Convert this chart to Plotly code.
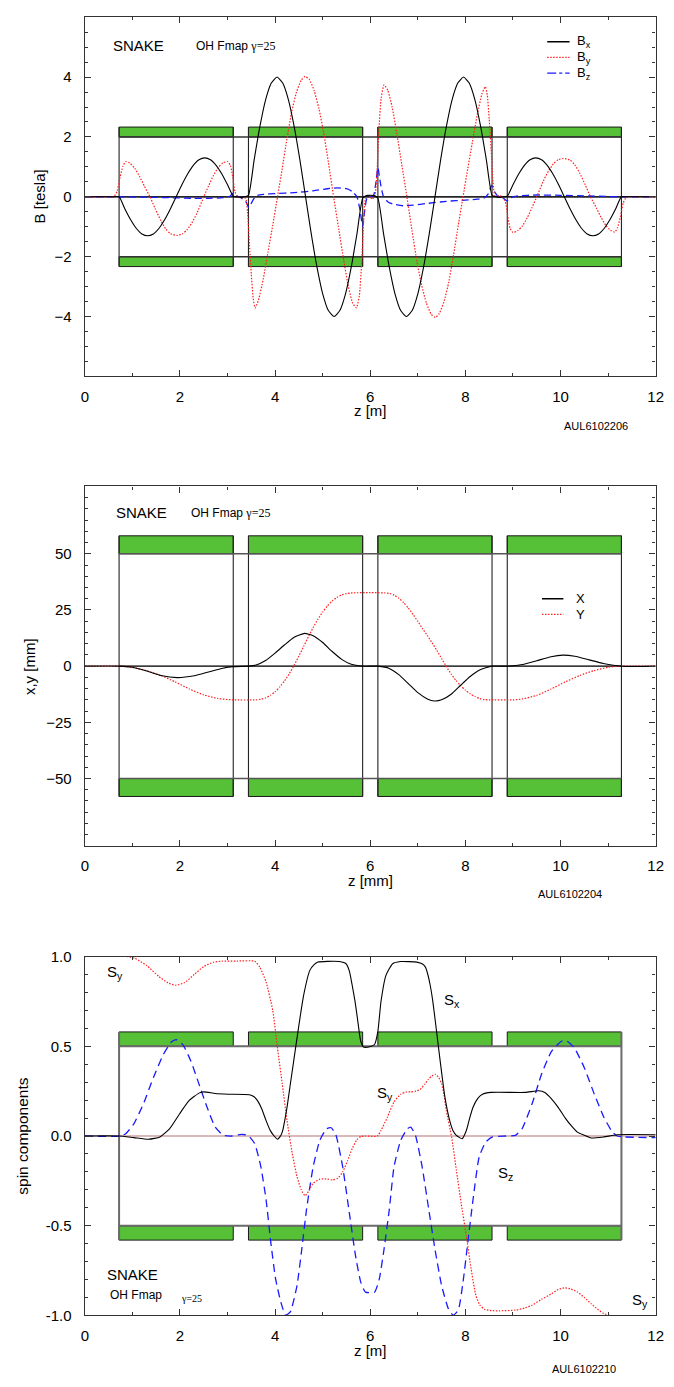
import plotly.graph_objects as go

# ---------------- data ----------------
mag_start = [0.72, 3.44, 6.16, 8.88]
mag_end = [3.12, 5.84, 8.56, 11.28]

# Panel 1: magnetic field [tesla]
bx_z = [0.00, 0.60, 0.72, 0.84, 0.96, 1.08, 1.20, 1.32, 1.44, 1.56, 1.68, 1.80, 1.92, 2.04, 2.16, 2.28, 2.40, 2.52, 2.64, 2.76, 2.88, 3.00, 3.12,
        3.20, 3.28, 3.36,
        3.44, 3.56, 3.68, 3.80, 3.92, 4.04, 4.16, 4.28, 4.40, 4.52, 4.64, 4.76, 4.88, 5.00, 5.12, 5.24, 5.36, 5.48, 5.60, 5.72, 5.84,
        5.92, 6.00, 6.08,
        6.16, 6.28, 6.40, 6.52, 6.64, 6.76, 6.88, 7.00, 7.12, 7.24, 7.36, 7.48, 7.60, 7.72, 7.84, 7.96, 8.08, 8.20, 8.32, 8.44, 8.56,
        8.64, 8.72, 8.80,
        8.88, 9.00, 9.12, 9.24, 9.36, 9.48, 9.60, 9.72, 9.84, 9.96, 10.08, 10.20, 10.32, 10.44, 10.56, 10.68, 10.80, 10.92, 11.04, 11.16, 11.28,
        11.40, 12.00]
bx_v = [0, 0, 0, -0.40, -0.76, -1.05, -1.24, -1.30, -1.24, -1.05, -0.76, -0.40, 0.00, 0.40, 0.76, 1.05, 1.24, 1.30, 1.24, 1.05, 0.76, 0.40, 0.02,
        0.00, -0.02, 0.00,
        0.05, 1.24, 2.35, 3.24, 3.80, 4.00, 3.80, 3.24, 2.35, 1.24, 0.00, -1.24, -2.35, -3.24, -3.80, -4.00, -3.80, -3.24, -2.35, -1.24, -0.05,
        0.04, 0.05, 0.04,
        -0.05, -1.24, -2.35, -3.24, -3.80, -4.00, -3.80, -3.24, -2.35, -1.24, 0.00, 1.24, 2.35, 3.24, 3.80, 4.00, 3.80, 3.24, 2.35, 1.24, 0.05,
        0.00, -0.02, 0.00,
        0.02, 0.40, 0.76, 1.05, 1.24, 1.30, 1.24, 1.05, 0.76, 0.40, 0.00, -0.40, -0.76, -1.05, -1.24, -1.30, -1.24, -1.05, -0.76, -0.40, 0.00,
        0, 0]

by_pts = [(0, 0), (0.55, 0), (0.62, 0.02), (0.68, 0.2), (0.74, 0.65), (0.80, 1.02), (0.86, 1.18), (0.95, 1.12), (1.05, 0.95),
          (1.15, 0.68), (1.25, 0.36), (1.37, 0.0), (1.48, -0.40), (1.60, -0.80), (1.70, -1.07), (1.80, -1.23), (1.94, -1.29),
          (2.05, -1.24), (2.15, -1.10), (2.25, -0.87), (2.35, -0.57), (2.50, 0.0), (2.60, 0.36), (2.70, 0.70), (2.80, 0.97),
          (2.90, 1.13), (3.00, 1.18), (3.06, 1.05), (3.11, 0.65), (3.16, 0.15), (3.22, 0.0), (3.30, -0.04), (3.38, -0.05),
          (3.42, -0.5), (3.46, -1.6), (3.50, -2.6), (3.54, -3.4), (3.58, -3.71), (3.65, -3.45), (3.75, -2.75), (3.85, -1.85),
          (3.95, -0.95), (4.05, 0.0), (4.15, 0.95), (4.25, 1.95), (4.35, 2.85), (4.45, 3.5), (4.55, 3.9), (4.63, 4.02),
          (4.72, 3.92), (4.82, 3.55), (4.92, 2.95), (5.02, 2.15), (5.12, 1.15), (5.23, 0.0), (5.34, -1.1), (5.44, -2.1),
          (5.54, -3.0), (5.63, -3.55), (5.71, -3.71), (5.77, -3.3), (5.82, -2.2), (5.86, -0.8), (5.90, -0.05), (5.96, 0.08),
          (6.00, 0.0), (6.04, -0.08), (6.10, 0.05), (6.14, 0.8), (6.18, 2.2), (6.23, 3.3), (6.29, 3.74), (6.37, 3.55),
          (6.46, 3.0), (6.56, 2.1), (6.66, 1.1), (6.77, 0.0), (6.88, -1.15), (6.98, -2.15), (7.08, -2.95), (7.18, -3.55),
          (7.28, -3.92), (7.37, -4.03), (7.45, -3.9), (7.55, -3.5), (7.65, -2.85), (7.75, -1.95), (7.85, -0.95), (7.95, 0.0),
          (8.05, 0.95), (8.15, 1.85), (8.25, 2.75), (8.35, 3.45), (8.42, 3.68), (8.46, 3.4), (8.50, 2.6), (8.54, 1.6),
          (8.58, 0.5), (8.62, 0.05), (8.70, 0.04), (8.78, 0.0), (8.84, -0.15), (8.89, -0.65), (8.94, -1.05), (9.00, -1.19),
          (9.10, -1.13), (9.20, -0.97), (9.30, -0.70), (9.40, -0.36), (9.50, 0.0), (9.65, 0.57), (9.75, 0.87), (9.85, 1.10),
          (9.95, 1.24), (10.06, 1.28), (10.20, 1.23), (10.30, 1.07), (10.40, 0.80), (10.52, 0.40), (10.63, 0.0),
          (10.75, -0.36), (10.85, -0.68), (10.95, -0.95), (11.05, -1.12), (11.14, -1.18), (11.20, -1.02), (11.26, -0.65),
          (11.32, -0.2), (11.38, -0.02), (11.45, 0), (12, 0)]

bz_pts = [(0, 0), (0.72, 0), (1.2, -0.01), (1.8, -0.03), (2.3, -0.05), (2.6, -0.05), (2.9, -0.03), (3.05, 0.02), (3.12, 0.12),
          (3.18, 0.03), (3.28, -0.03), (3.38, -0.15), (3.45, -0.36), (3.52, -0.15), (3.6, 0.03), (3.75, 0.08), (4.0, 0.11),
          (4.4, 0.14), (4.8, 0.2), (5.1, 0.27), (5.32, 0.3), (5.5, 0.27), (5.62, 0.18), (5.72, 0.0), (5.78, -0.4),
          (5.84, -0.98), (5.88, -0.5), (5.93, -0.05), (6.0, 0.0), (6.07, 0.05), (6.12, 0.5), (6.16, 0.98), (6.22, 0.4),
          (6.28, 0.0), (6.38, -0.18), (6.5, -0.25), (6.7, -0.3), (6.9, -0.28), (7.2, -0.22), (7.6, -0.15), (8.0, -0.11),
          (8.25, -0.08), (8.4, -0.03), (8.48, 0.1), (8.55, 0.38), (8.62, 0.15), (8.7, 0.0), (8.8, -0.05), (8.88, -0.14),
          (8.95, -0.03), (9.1, 0.03), (9.5, 0.06), (10.0, 0.05), (10.6, 0.03), (11.0, 0.01), (11.28, 0), (12, 0)]

# Panel 2: orbit x, y [mm]
x_pts = [(0, 0), (0.72, 0), (1.0, -0.5), (1.3, -2.2), (1.6, -4.2), (1.94, -5.1), (2.3, -4.3), (2.6, -2.6), (2.9, -0.9),
         (3.12, -0.2), (3.44, 0), (3.6, 0.5), (3.8, 2.5), (4.0, 5.8), (4.2, 9.5), (4.4, 12.9), (4.62, 14.6), (4.8, 13.5),
         (5.0, 10.5), (5.2, 6.5), (5.4, 3.0), (5.6, 0.8), (5.84, 0), (6.16, 0), (6.4, -1.0), (6.6, -3.8), (6.8, -7.8),
         (7.0, -11.8), (7.2, -14.6), (7.35, -15.5), (7.5, -15.0), (7.7, -12.5), (7.9, -8.5), (8.1, -4.6), (8.3, -1.7),
         (8.56, 0), (8.88, 0), (9.2, 0.7), (9.5, 2.4), (9.8, 4.2), (10.05, 4.9), (10.3, 4.4), (10.6, 2.8), (10.9, 1.2),
         (11.28, 0), (12, 0)]
y_pts = [(0, 0), (0.72, 0), (1.0, -0.5), (1.3, -2.0), (1.6, -4.2), (1.9, -7.0), (2.2, -10.2), (2.5, -12.8), (2.8, -14.4),
         (3.1, -15.0), (3.6, -15.0), (3.7, -14.7), (3.8, -14.1), (3.9, -13.0), (4.0, -11.4), (4.1, -9.2), (4.2, -6.5),
         (4.3, -3.3), (4.4, 0.4), (4.5, 4.5), (4.6, 8.8), (4.7, 13.1), (4.8, 17.2), (4.9, 20.9), (5.0, 24.1), (5.1, 26.8),
         (5.2, 29.0), (5.3, 30.6), (5.4, 31.7), (5.5, 32.3), (5.6, 32.6), (6.0, 32.7), (6.3, 32.6), (6.4, 32.4),
         (6.5, 31.6), (6.6, 30.2), (6.7, 28.3), (6.8, 25.9), (6.9, 23.0), (7.0, 19.9), (7.1, 16.7), (7.2, 13.6),
         (7.3, 10.4), (7.4, 7.0), (7.5, 3.4), (7.6, -0.2), (7.7, -3.5), (7.8, -6.3), (7.9, -8.7), (8.0, -10.7),
         (8.1, -12.3), (8.2, -13.5), (8.3, -14.4), (8.4, -14.9), (8.5, -15.0), (9.0, -15.0), (9.2, -14.6), (9.5, -13.0),
         (9.8, -10.2), (10.1, -7.0), (10.4, -4.2), (10.7, -2.0), (11.0, -0.5), (11.28, 0), (12, 0)]

# Panel 3: spin components
sy_pts = [(0, 1.0), (0.9, 1.0), (1.05, 0.99), (1.3, 0.95), (1.55, 0.89), (1.75, 0.853), (1.91, 0.84), (2.1, 0.855),
          (2.3, 0.9), (2.5, 0.945), (2.7, 0.968), (2.88, 0.974), (3.2, 0.975), (3.57, 0.974), (3.68, 0.94), (3.81, 0.858),
          (3.95, 0.70), (4.05, 0.49), (4.15, 0.29), (4.25, 0.086), (4.36, -0.097), (4.46, -0.226), (4.55, -0.30),
          (4.63, -0.333), (4.72, -0.30), (4.8, -0.263), (4.94, -0.24), (5.1, -0.24), (5.21, -0.245), (5.32, -0.235),
          (5.42, -0.20), (5.52, -0.14), (5.62, -0.07), (5.72, -0.02), (5.8, -0.003), (5.9, 0), (6.15, 0.0), (6.225, 0.03),
          (6.36, 0.105), (6.5, 0.19), (6.64, 0.233), (6.75, 0.245), (6.85, 0.246), (6.96, 0.25), (7.05, 0.26), (7.15, 0.29),
          (7.22, 0.316), (7.3, 0.335), (7.37, 0.344), (7.44, 0.325), (7.5, 0.29), (7.55, 0.23), (7.6, 0.14), (7.71, -0.005),
          (7.81, -0.19), (7.91, -0.373), (8.02, -0.557), (8.12, -0.74), (8.22, -0.888), (8.30, -0.94), (8.4, -0.965),
          (8.55, -0.973), (8.71, -0.974), (9.05, -0.97), (9.25, -0.958), (9.4, -0.943), (9.6, -0.91), (9.81, -0.879),
          (9.95, -0.855), (10.09, -0.846), (10.22, -0.853), (10.36, -0.87), (10.5, -0.9), (10.64, -0.934), (10.78, -0.965),
          (10.91, -0.989), (11.05, -1.0), (12, -1.0)]
sx_pts = [(0, 0), (0.72, 0), (1.03, -0.009), (1.34, -0.018), (1.58, -0.005), (1.78, 0.04), (1.99, 0.123), (2.19, 0.197),
          (2.4, 0.239), (2.5, 0.246), (2.74, 0.237), (3.02, 0.233), (3.46, 0.23), (3.55, 0.22), (3.63, 0.197), (3.72, 0.15),
          (3.81, 0.086), (3.9, 0.03), (3.98, 0.0), (4.05, -0.018), (4.1, -0.005), (4.15, 0.022), (4.25, 0.16), (4.32, 0.29),
          (4.39, 0.417), (4.49, 0.6), (4.6, 0.785), (4.73, 0.923), (4.82, 0.955), (4.9, 0.969), (5.1, 0.973), (5.35, 0.972),
          (5.49, 0.96), (5.56, 0.92), (5.62, 0.84), (5.68, 0.75), (5.73, 0.656), (5.8, 0.528), (5.86, 0.496), (5.97, 0.496),
          (6.09, 0.51), (6.16, 0.583), (6.225, 0.748), (6.33, 0.895), (6.47, 0.96), (6.64, 0.972), (6.98, 0.969), (7.1, 0.958),
          (7.16, 0.941), (7.21, 0.90), (7.26, 0.84), (7.31, 0.76), (7.36, 0.656), (7.47, 0.417), (7.57, 0.215), (7.67, 0.086),
          (7.74, 0.03), (7.81, 0.004), (7.93, -0.015), (8.02, 0.031), (8.09, 0.10), (8.16, 0.16), (8.26, 0.21), (8.36, 0.233),
          (8.54, 0.243), (9.26, 0.243), (9.54, 0.252), (9.67, 0.243), (9.8, 0.21), (9.95, 0.16), (10.1, 0.10), (10.22, 0.059),
          (10.36, 0.02), (10.5, 0.004), (10.64, -0.011), (10.91, -0.005), (11.19, 0.007), (12, 0.007)]
sz_pts = [(0, 0), (0.72, 0), (0.86, 0.013), (1.03, 0.068), (1.23, 0.178), (1.44, 0.325), (1.65, 0.454), (1.82, 0.524),
          (1.92, 0.537), (2.06, 0.509), (2.23, 0.417), (2.4, 0.289), (2.57, 0.16), (2.74, 0.05), (2.91, 0.004), (3.09, 0),
          (3.29, 0.009), (3.43, 0.004), (3.57, -0.042), (3.7, -0.171), (3.81, -0.355), (3.91, -0.594), (4.01, -0.796),
          (4.12, -0.925), (4.22, -0.998), (4.32, -0.98), (4.46, -0.833), (4.56, -0.631), (4.66, -0.41), (4.8, -0.171),
          (4.94, -0.024), (5.08, 0.04), (5.18, 0.046), (5.28, 0.004), (5.42, -0.171), (5.56, -0.428), (5.69, -0.667),
          (5.8, -0.814), (5.9, -0.87), (6.09, -0.87), (6.19, -0.796), (6.29, -0.63), (6.4, -0.41), (6.5, -0.171),
          (6.64, -0.024), (6.78, 0.04), (6.85, 0.05), (6.95, 0.004), (7.09, -0.171), (7.23, -0.41), (7.36, -0.63),
          (7.5, -0.833), (7.64, -0.961), (7.74, -0.998), (7.85, -0.97), (7.95, -0.814), (8.05, -0.594), (8.16, -0.355),
          (8.29, -0.116), (8.43, -0.033), (8.57, -0.005), (8.85, 0), (9.05, 0.004), (9.19, 0.04), (9.4, 0.178), (9.6, 0.344),
          (9.81, 0.472), (10.02, 0.528), (10.12, 0.531), (10.29, 0.491), (10.5, 0.38), (10.71, 0.233), (10.91, 0.105),
          (11.09, 0.022), (11.19, 0), (11.33, -0.005), (12, -0.009)]

x_ticks = [0, 2, 4, 6, 8, 10, 12]
b_ticks = [-4, -2, 0, 2, 4]
xy_ticks = [-50, -25, 0, 25, 50]
s_ticks = [-1.0, -0.5, 0.0, 0.5, 1.0]

# ---------------- figure ----------------
W, H = 674, 1387
XL, XR = 82.3, 663.5
panels = [(8.3, 372.0), (483.3, 847.3), (959.3, 1322.7)]


def ydom(top, bot):
    return [1 - bot / H, 1 - top / H]


GREEN = '#56c036'
FRAME = '#333333'
RED = '#ff2020'
BLUE = '#1a1aff'
DOT = '1.5px,1.5px'
FONT = 'Arial, Liberation Sans, sans-serif'

fig = go.Figure()


def line_trace(z, v, ax, color, dash='solid', width=1.1):
    fig.add_trace(go.Scatter(x=list(z), y=list(v), mode='lines', xaxis=ax[0], yaxis=ax[1],
                             line=dict(color=color, width=width, dash=dash, shape='spline', smoothing=0.5),
                             showlegend=False, hoverinfo='skip'))


shapes = []
annotations = []


def magnets(xr, yr, gap, top, inner_vertical, box_color, box_width, zero_color, outside_zero):
    shapes.append(dict(type='line', xref=xr, yref=yr, x0=0, x1=12, y0=0, y1=0,
                       line=dict(color=outside_zero, width=1.5), layer='below'))
    shapes.append(dict(type='line', xref=xr, yref=yr, x0=mag_start[0], x1=mag_end[-1], y0=0, y1=0,
                       line=dict(color=zero_color, width=1.3), layer='below'))
    for a, b in zip(mag_start, mag_end):
        for s in (1, -1):
            shapes.append(dict(type='rect', xref=xr, yref=yr, x0=a, x1=b, y0=s * gap, y1=s * top,
                               fillcolor=GREEN, line=dict(color='#1a1a1a', width=1), layer='below'))
        if inner_vertical:
            for xv in (a, b):
                shapes.append(dict(type='line', xref=xr, yref=yr, x0=xv, x1=xv, y0=-top, y1=top,
                                   line=dict(color='#222222', width=1.1), layer='below'))
    if not inner_vertical:
        for xv in (mag_start[0], mag_end[-1]):
            shapes.append(dict(type='line', xref=xr, yref=yr, x0=xv, x1=xv, y0=-top, y1=top,
                               line=dict(color=box_color, width=box_width), layer='below'))
    for s in (1, -1):
        shapes.append(dict(type='line', xref=xr, yref=yr, x0=mag_start[0], x1=mag_end[-1], y0=s * gap, y1=s * gap,
                           line=dict(color=box_color, width=box_width), layer='below'))


magnets('x', 'y', 2.0, 2.33, True, '#333333', 1.4, '#222222', '#333333')
magnets('x2', 'y2', 50, 58, True, '#555555', 1.6, '#111111', '#bbbbbb')
magnets('x3', 'y3', 0.5, 0.58, False, '#6a6a6a', 2.0, '#d8b4b4', '#d8b4b4')

# panel 1 curves
line_trace([p[0] for p in bz_pts], [p[1] for p in bz_pts], ('x', 'y'), BLUE, '7px,4px', 1.3)
line_trace([p[0] for p in by_pts], [p[1] for p in by_pts], ('x', 'y'), RED, DOT, 1.2)
line_trace(bx_z, bx_v, ('x', 'y'), 'black', 'solid', 1.1)
# panel 2 curves
line_trace([p[0] for p in y_pts], [p[1] for p in y_pts], ('x2', 'y2'), RED, DOT, 1.2)
line_trace([p[0] for p in x_pts], [p[1] for p in x_pts], ('x2', 'y2'), 'black', 'solid', 1.1)
# panel 3 curves
line_trace([p[0] for p in sz_pts], [p[1] for p in sz_pts], ('x3', 'y3'), BLUE, '8px,5px', 1.3)
line_trace([p[0] for p in sy_pts], [p[1] for p in sy_pts], ('x3', 'y3'), RED, DOT, 1.2)
line_trace([p[0] for p in sx_pts], [p[1] for p in sx_pts], ('x3', 'y3'), 'black', 'solid', 1.1)


def data_text(xr, yr, x, y, txt, size, anchor='left'):
    annotations.append(dict(xref=xr, yref=yr, x=x, y=y, text=txt, showarrow=False,
                            xanchor=anchor, yanchor='middle', font=dict(family=FONT, size=size, color='black')))


# legends (drawn in data coordinates)
leg1 = [('B<sub>x</sub>', 'black', 'solid', 5.18), ('B<sub>y</sub>', RED, DOT, 4.66), ('B<sub>z</sub>', BLUE, 'dashdot', 4.13)]
for txt, col, dsh, yy in leg1:
    shapes.append(dict(type='line', xref='x', yref='y', x0=9.72, x1=10.19, y0=yy, y1=yy,
                       line=dict(color=col, width=1.3, dash=dsh)))
    data_text('x', 'y', 10.30, yy, txt, 13)
leg2 = [('X', 'black', 'solid', 30.0), ('Y', RED, DOT, 23.0)]
for txt, col, dsh, yy in leg2:
    shapes.append(dict(type='line', xref='x2', yref='y2', x0=9.61, x1=10.06, y0=yy, y1=yy,
                       line=dict(color=col, width=1.3, dash=dsh)))
    data_text('x2', 'y2', 10.28, yy, txt, 13)

gam = '<span style="font-family:Liberation Serif">γ=25</span>'
data_text('x', 'y', 0.56, 5.07, 'SNAKE', 15)
data_text('x', 'y', 2.30, 5.03, 'OH Fmap ' + gam, 12)
data_text('x2', 'y2', 0.61, 68.3, 'SNAKE', 15)
data_text('x2', 'y2', 2.19, 68.3, 'OH Fmap ' + gam, 12)
data_text('x3', 'y3', 0.43, 0.91, 'S<sub>y</sub>', 15)
data_text('x3', 'y3', 7.51, 0.755, 'S<sub>x</sub>', 15)
data_text('x3', 'y3', 6.11, 0.235, 'S<sub>y</sub>', 15)
data_text('x3', 'y3', 8.64, -0.21, 'S<sub>z</sub>', 15)
data_text('x3', 'y3', 11.45, -0.915, 'S<sub>y</sub>', 15)
data_text('x3', 'y3', 0.425, -0.77, 'SNAKE', 15)
data_text('x3', 'y3', 0.49, -0.888, 'OH Fmap', 12)
data_text('x3', 'y3', 1.97, -0.903, gam, 10)


def paper_text(px, py, txt, size, angle=0, anchor='center'):
    annotations.append(dict(xref='paper', yref='paper', x=px / W, y=1 - py / H, text=txt, showarrow=False,
                            xanchor=anchor, yanchor='middle', textangle=angle,
                            font=dict(family=FONT, size=size, color='black')))


paper_text(36.5, 190, 'B [tesla]', 15, -90)
paper_text(373, 406.7, 'z [m]', 15)
paper_text(602.5, 422, 'AUL6102206', 11)
paper_text(26, 665.7, 'x,y [mm]', 15, -90)
paper_text(373, 882.7, 'z [mm]', 15)
paper_text(576, 895.7, 'AUL6102204', 11)
paper_text(18, 1141, 'spin components', 15.5, -90)
paper_text(373, 1358.3, 'z [m]', 15)
paper_text(591, 1376.7, 'AUL6102210', 11)


def xaxis(anchor):
    return dict(domain=[XL / W, XR / W], anchor=anchor, range=[0, 12], tickmode='array', tickvals=x_ticks,
                showline=True, linecolor=FRAME, linewidth=1.4, mirror='ticks', ticks='inside', ticklen=6,
                tickwidth=1, tickcolor=FRAME, showgrid=False, zeroline=False, ticklabelstandoff=6,
                tickfont=dict(family=FONT, size=15, color='black'),
                minor=dict(tickmode='linear', tick0=0, dtick=1, ticks='inside', ticklen=3, tickcolor=FRAME, showgrid=False))


def yaxis(dom, anchor, rng, vals, mdt, fmt=None):
    d = dict(domain=dom, anchor=anchor, range=rng, tickmode='array', tickvals=vals,
             showline=True, linecolor=FRAME, linewidth=1.4, mirror='ticks', ticks='inside', ticklen=6,
             tickwidth=1, tickcolor=FRAME, showgrid=False, zeroline=False, ticklabelstandoff=9,
             tickfont=dict(family=FONT, size=15, color='black'),
             minor=dict(tickmode='linear', tick0=0, dtick=mdt, ticks='inside', ticklen=3, tickcolor=FRAME, showgrid=False))
    if fmt:
        d['ticktext'] = [fmt.format(v) for v in vals]
    return d


fig.update_layout(
    width=W, height=H, margin=dict(l=0, r=0, t=0, b=0, pad=0),
    paper_bgcolor='white', plot_bgcolor='white', showlegend=False,
    xaxis=xaxis('y'), yaxis=yaxis(ydom(*panels[0]), 'x', [-6, 6], b_ticks, 0.5),
    xaxis2=xaxis('y2'), yaxis2=yaxis(ydom(*panels[1]), 'x2', [-80, 80], xy_ticks, 5),
    xaxis3=xaxis('y3'), yaxis3=yaxis(ydom(*panels[2]), 'x3', [-1, 1], s_ticks, 0.1, '{:.1f}'),
    shapes=shapes, annotations=annotations,
)

fig.write_html('out.html', config={'displayModeBar': False},
               post_script="document.body.style.margin='0';document.body.style.overflow='hidden';"
                           "document.documentElement.style.overflow='hidden';")
